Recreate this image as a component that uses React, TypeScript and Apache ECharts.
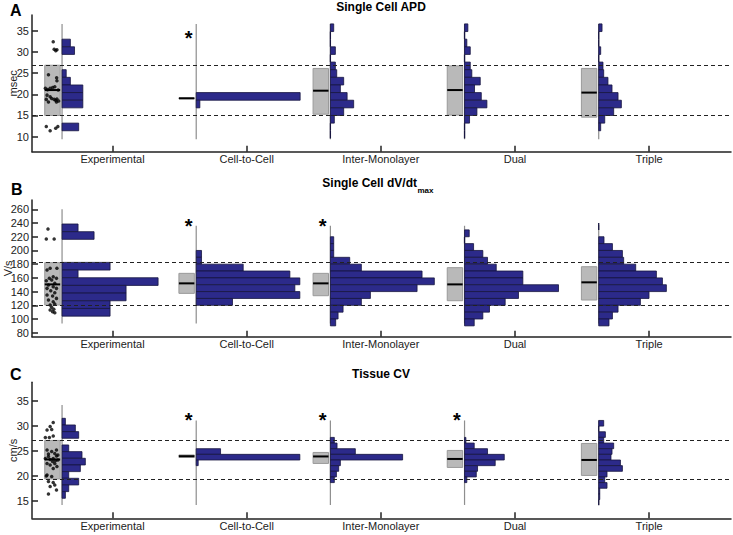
import React, { useEffect, useRef } from "react";
import * as echarts from "echarts";

const FONT = '"Liberation Sans", Arial, Helvetica, sans-serif';

// ---------------- data ----------------
const groups = ["Experimental", "Cell-to-Cell", "Inter-Monolayer", "Dual", "Triple"];
const groupPositions = [1, 2, 3, 4, 5];

// Panel A: Single Cell APD (msec)
const apdTicks = [10, 15, 20, 25, 30, 35];
const apdBinTop = [36.6, 36.6, 36.6, 36.6, 36.6];
const apdBinWidth = [1.8, 1.8, 1.8, 1.8, 1.8];
const apdFreqExperimental = [null, null, 8, 12, null, null, 4, 8, 20, 20, 20, null, null, 16, null];
const apdFreqCellToCell = [null, null, null, null, null, null, null, null, null, 100, 3.5, null, null, null, null];
const apdFreqInterMonolayer = [3.2, 0, 0, 4.8, 0, 4.8, 6.1, 12.8, 9.6, 16.1, 22.4, 12.8, 3.8, 0, 0];
const apdFreqDual = [3.2, 0, 2.2, 5.5, 0, 5.5, 7.0, 15.1, 9.6, 16.1, 21.5, 11.9, 4.8, 0, 0];
const apdFreqTriple = [3.2, 0, 0, 1.9, 0, 4.1, 4.8, 8.9, 12.8, 18.6, 21.8, 14.4, 5.8, 1.9, null];
const apdBoxLow = [15.0, 18.95, 15.3, 15.1, 14.6];
const apdBoxHigh = [26.85, 19.15, 26.1, 26.7, 26.1];
const apdMean = [21.0, 19.05, 20.85, 21.0, 20.4];
const apdBaseTop = [36.6, 36.6, 36.6, 36.6, 36.6];
const apdBaseBottom = 9.4;
const apdExpValues = [32.4, 30.6, 30.3, 30.5, 24.6, 23.9, 23.2, 21.4, 21.4, 21.6, 21.8, 21.1, 21.0, 19.8, 19.4, 19.0, 18.8, 18.6, 18.9, 18.2, 18.2, 18.8, 18.4, 12.4, 11.4, 12.0, 12.4];
const apdExpJitter = [0.55, 0.61, 0.71, 0.79, 0.24, 0.77, 0.79, 0.04, 0.35, 0.51, 0.65, 0.18, 0.87, 0.15, 0.35, 0.45, 0.61, 0.71, 0.79, 0.24, 0.76, 0.10, 0.90, 0.10, 0.35, 0.71, 0.85];
const apdSignificant = [0, 1, 0, 0, 0];
const apdStarLevel = 34.4;

// Panel B: Single Cell dV/dt max (V/s)
const dvdtTicks = [80, 100, 120, 140, 160, 180, 200, 220, 240, 260];
const dvdtBinTop = [238.6, 240, 240, 240, 240];
const dvdtBinWidth = [11.2, 10, 10, 10, 10];
const dvdtFreqExperimental = [15.4, 30.8, null, null, null, 46.2, 15.4, 92.4, 61.6, 61.6, 46.2, 46.2];
const dvdtFreqCellToCell = [null, null, null, null, 5.1, 5.1, 45.2, 90.1, 99.7, 94.9, 99.7, 34.9];
const dvdtFreqInterMonolayer = [null, null, 3.2, 3.2, 3.2, 18.6, 29.8, 88.2, 100, 83.4, 38.5, 29.8, 12.2, 7.4, 5.1];
const dvdtFreqDual = [null, 4.5, 0, 8.7, 17.6, 22.1, 30.5, 56.1, 56.1, 90.4, 51.9, 39.1, 24.0, 17.6, 9.3];
const dvdtFreqTriple = [0, null, 5.1, 13.2, 22.8, 24.0, 35.6, 55.5, 61.3, 65.1, 48.4, 40.1, 18.6, 13.2, 9.9];
const dvdtBoxLow = [120.4, 137.4, 134, 126.7, 127.7];
const dvdtBoxHigh = [182.2, 166.6, 166.6, 174.9, 176.3];
const dvdtMean = [150.5, 152, 152, 150.5, 153.5];
const dvdtBaseTop = [260, 236, 236, 236, 237];
const dvdtBaseBottom = 93.6;
const dvdtExpValues = [231.3, 216.7, 216.7, 173.9, 173.9, 171.5, 161.7, 159.3, 159.3, 155.9, 156.9, 152.0, 149.6, 147.1, 144.7, 144.7, 141.3, 138.4, 135.0, 133.5, 130.1, 127.7, 125.2, 121.8, 120.4, 117.0, 114.1, 110.7, 109.2, 113.1];
const dvdtExpJitter = [0.21, 0.10, 0.61, 0.35, 0.79, 0.15, 0.55, 0.30, 0.76, 0.10, 0.45, 0.65, 0.24, 0.55, 0.15, 0.76, 0.39, 0.65, 0.15, 0.51, 0.76, 0.24, 0.55, 0.65, 0.35, 0.45, 0.59, 0.51, 0.65, 0.35];
const dvdtSignificant = [0, 1, 1, 0, 0];
const dvdtStarLevel = 242;

// Panel C: Tissue CV (cm/s)
const cvTicks = [15, 20, 25, 30, 35];
const cvBinTop = [31.53, 31.1, 31.1, 31.1, 31.1];
const cvBinWidth = [1.333, 1.13, 1.13, 1.13, 1.13];
const cvFreqExperimental = [3.2, 12.8, 16.0, null, 6.4, 19.2, 22.4, 17.6, 6.4, 16.0, 6.4, 3.2];
const cvFreqCellToCell = [null, null, null, null, null, 23.4, 99.7, 1.9];
const cvFreqInterMonolayer = [null, null, null, 3.8, 6.4, 24.0, 69.5, 9.6, 8.0, 5.8, 3.8];
const cvFreqDual = [null, null, null, 1.3, 9.3, 22.1, 38.2, 29.5, 12.5, 11.3, 2.2];
const cvFreqTriple = [4.8, 0, 6.4, 4.8, 14.4, 12.8, 11.8, 20.9, 22.8, 8.0, 5.8, 8.0, 1.0, 1.0, 0];
const cvBoxLow = [19.4, 23.7, 22.5, 21.7, 20.1];
const cvBoxHigh = [27.1, 24.2, 24.7, 25.1, 26.5];
const cvMean = [23.3, 23.95, 23.9, 23.4, 23.2];
const cvBaseTop = [34.2, 31.1, 31.1, 31.1, 31.1];
const cvBaseBottom = 14.2;
const cvExpValues = [30.7, 29.9, 29.2, 29.3, 27.7, 27.7, 28.0, 25.2, 24.9, 24.5, 24.0, 23.9, 23.3, 23.5, 23.2, 22.5, 22.5, 22.2, 21.9, 21.5, 24.4, 22.9, 25.2, 20.2, 19.9, 18.9, 18.7, 18.2, 17.9, 17.2, 16.4, 20.0, 24.2, 23.5, 23.1];
const cvExpJitter = [0.55, 0.35, 0.15, 0.45, 0.04, 0.30, 0.55, 0.15, 0.45, 0.65, 0.76, 0.24, 0.35, 0.55, 0.85, 0.15, 0.65, 0.35, 0.79, 0.55, 0.24, 0.51, 0.76, 0.15, 0.45, 0.24, 0.55, 0.65, 0.35, 0.76, 0.24, 0.10, 0.85, 0.04, 0.70];
const cvSignificant = [0, 1, 1, 1, 0];
const cvStarLevel = 32.1;

// ---------------- layout / style ----------------
const NAVY = "#2c2a8a";
const EDGE = "#17153f";
const BOX_FILL = "#b9b9b9";
const BOX_EDGE = "#9a9a9a";
const AXIS = "#222";
const X_MIN = 0.4;
const X_MAX = 5.61;
const BOX_L = -0.505;
const BOX_R = -0.39;
const BASE_X = -0.376;
const STAR_X = -0.433;
const FREQ_SCALE = 104 / 134.25 / 100;

type Panel = {
  top: number; height: number; yMin: number; yMax: number; ticks: number[]; unit: string; nameGap: number;
  binTop: number[]; binWidth: number[]; freq: (number | null)[][];
  boxLow: number[]; boxHigh: number[]; mean: number[];
  baseTop: number[]; baseBottom: number;
  dots: number[]; jitter: number[]; sig: number[]; starLevel: number;
};

const panels: Panel[] = [
  {
    top: 15, height: 136.7, yMin: 6.46, yMax: 38.7, ticks: apdTicks, unit: "msec", nameGap: 14,
    binTop: apdBinTop, binWidth: apdBinWidth,
    freq: [apdFreqExperimental, apdFreqCellToCell, apdFreqInterMonolayer, apdFreqDual, apdFreqTriple],
    boxLow: apdBoxLow, boxHigh: apdBoxHigh, mean: apdMean, baseTop: apdBaseTop, baseBottom: apdBaseBottom,
    dots: apdExpValues, jitter: apdExpJitter, sig: apdSignificant, starLevel: apdStarLevel,
  },
  {
    top: 200, height: 136.7, yMin: 74.2, yMax: 273.6, ticks: dvdtTicks, unit: "V/s", nameGap: 19,
    binTop: dvdtBinTop, binWidth: dvdtBinWidth,
    freq: [dvdtFreqExperimental, dvdtFreqCellToCell, dvdtFreqInterMonolayer, dvdtFreqDual, dvdtFreqTriple],
    boxLow: dvdtBoxLow, boxHigh: dvdtBoxHigh, mean: dvdtMean, baseTop: dvdtBaseTop, baseBottom: dvdtBaseBottom,
    dots: dvdtExpValues, jitter: dvdtExpJitter, sig: dvdtSignificant, starLevel: dvdtStarLevel,
  },
  {
    top: 382.3, height: 136, yMin: 11.53, yMax: 38.73, ticks: cvTicks, unit: "cm/s", nameGap: 14,
    binTop: cvBinTop, binWidth: cvBinWidth,
    freq: [cvFreqExperimental, cvFreqCellToCell, cvFreqInterMonolayer, cvFreqDual, cvFreqTriple],
    boxLow: cvBoxLow, boxHigh: cvBoxHigh, mean: cvMean, baseTop: cvBaseTop, baseBottom: cvBaseBottom,
    dots: cvExpValues, jitter: cvExpJitter, sig: cvSignificant, starLevel: cvStarLevel,
  },
];

function buildOption() {
  const grid: any[] = [];
  const xAxis: any[] = [];
  const yAxis: any[] = [];
  const series: any[] = [];

  panels.forEach((p, i) => {
    grid.push({ left: 32, right: 2, top: p.top, height: p.height, containLabel: false, outerBoundsMode: "none" });
    xAxis.push({
      gridIndex: i, type: "value", min: X_MIN, max: X_MAX,
      axisLine: { show: true, onZero: false, lineStyle: { color: AXIS, width: 1.5 } },
      axisTick: { show: true, inside: true, length: 6, customValues: groupPositions, lineStyle: { color: AXIS, width: 1.5 } },
      axisLabel: {
        show: true, customValues: groupPositions, margin: 2, fontFamily: FONT, fontSize: 11, color: AXIS,
        formatter: (v: number) => groups[Math.round(v) - 1] ?? "",
      },
      splitLine: { show: false },
    });
    yAxis.push({
      gridIndex: i, type: "value", min: p.yMin, max: p.yMax,
      name: p.unit, nameLocation: "middle", nameGap: p.nameGap, nameRotate: 90, nameMoveOverlap: false,
      nameTextStyle: { fontFamily: FONT, fontSize: 11, color: AXIS },
      axisLine: { show: true, onZero: false, lineStyle: { color: AXIS, width: 1.5 } },
      axisTick: { show: true, inside: true, length: 6, customValues: p.ticks, lineStyle: { color: AXIS, width: 1.5 } },
      axisLabel: { show: true, customValues: p.ticks, margin: 3, fontFamily: FONT, fontSize: 11, color: AXIS },
      splitLine: { show: false },
    });

    // baselines + dashed reference lines (experimental mean ± SD)
    series.push({
      type: "custom", xAxisIndex: i, yAxisIndex: i, z: 1, silent: true,
      data: groupPositions.map((g, k) => [g + BASE_X, p.baseTop[k], p.baseBottom]),
      renderItem: (_: any, api: any) => {
        const a = api.coord([api.value(0), api.value(1)]);
        const b = api.coord([api.value(0), api.value(2)]);
        return { type: "line", shape: { x1: a[0], y1: a[1], x2: b[0], y2: b[1] }, style: { stroke: "#8e8e8e", lineWidth: 1.2 } };
      },
      markLine: {
        silent: true, symbol: ["none", "none"], label: { show: false },
        lineStyle: { color: AXIS, width: 1, type: [4, 3] },
        data: [{ yAxis: p.boxHigh[0] }, { yAxis: p.boxLow[0] }],
      },
    });

    // gray boxes with mean line
    series.push({
      type: "custom", xAxisIndex: i, yAxisIndex: i, z: 2, silent: true,
      data: groupPositions.map((g, k) => [g + BOX_L, p.boxLow[k], p.boxHigh[k], p.mean[k], g + BOX_R]),
      renderItem: (_: any, api: any) => {
        const a = api.coord([api.value(0), api.value(2)]);
        const b = api.coord([api.value(4), api.value(1)]);
        const m = api.coord([api.value(0), api.value(3)]);
        return {
          type: "group",
          children: [
            { type: "rect", shape: { x: a[0], y: a[1], width: b[0] - a[0], height: b[1] - a[1] }, style: { fill: BOX_FILL, stroke: BOX_EDGE, lineWidth: 1 } },
            { type: "line", shape: { x1: a[0], y1: m[1], x2: b[0], y2: m[1] }, style: { stroke: "#000", lineWidth: 2 } },
          ],
        };
      },
    });

    // histograms
    const hist: number[][] = [];
    p.freq.forEach((arr, k) => {
      arr.forEach((f, j) => {
        if (f === null || f === undefined) return;
        const top = p.binTop[k] - j * p.binWidth[k];
        hist.push([groupPositions[k] + BASE_X, top, top - p.binWidth[k], f]);
      });
    });
    series.push({
      type: "custom", xAxisIndex: i, yAxisIndex: i, z: 3, silent: true,
      data: hist,
      renderItem: (_: any, api: any) => {
        const x0 = api.value(0);
        const len = api.value(3);
        const a = api.coord([x0, api.value(1)]);
        const b = api.coord([x0 + len * FREQ_SCALE, api.value(2)]);
        if (len <= 0) {
          return { type: "line", shape: { x1: a[0], y1: a[1], x2: a[0], y2: b[1] }, style: { stroke: EDGE, lineWidth: 1.3 } };
        }
        return { type: "rect", shape: { x: a[0], y: a[1], width: b[0] - a[0], height: b[1] - a[1] }, style: { fill: NAVY, stroke: EDGE, lineWidth: 0.8 } };
      },
    });

    // experimental cells
    series.push({
      type: "scatter", xAxisIndex: i, yAxisIndex: i, z: 4, silent: true,
      symbolSize: 3.5, itemStyle: { color: "#000" },
      data: p.dots.map((v, j) => [groupPositions[0] + BOX_L + p.jitter[j] * (BOX_R - BOX_L), v]),
    });

    // significance asterisks
    const stars = groupPositions.filter((_, k) => p.sig[k]).map((g) => [g + STAR_X, p.starLevel]);
    series.push({
      type: "custom", xAxisIndex: i, yAxisIndex: i, z: 5, silent: true,
      data: stars,
      renderItem: (_: any, api: any) => {
        const c = api.coord([api.value(0), api.value(1)]);
        return {
          type: "text", x: c[0], y: c[1] + 4.6,
          style: { text: "*", font: `bold 20px ${FONT}`, fill: "#000", align: "center", textAlign: "center", verticalAlign: "middle", textVerticalAlign: "middle" },
        };
      },
    });
  });

  const txt = (text: string, x: number, y: number, font: string, align: string) => ({
    type: "text", x, y, silent: true,
    style: { text, font, fill: "#000", align, textAlign: align, verticalAlign: "middle", textVerticalAlign: "middle" },
  });

  const graphic = [
    txt("A", 10, 10.7, `bold 16px ${FONT}`, "left"),
    txt("B", 11, 189.7, `bold 16px ${FONT}`, "left"),
    txt("C", 10, 374.2, `bold 16px ${FONT}`, "left"),
    txt("Single Cell APD", 381, 7, `bold 12px ${FONT}`, "center"),
    txt("Single Cell dV/dt", 417, 182.8, `bold 12px ${FONT}`, "right"),
    txt("max", 417.5, 190.6, `bold 8px ${FONT}`, "left"),
    txt("Tissue CV", 381, 374, `bold 12px ${FONT}`, "center"),
  ];

  return { animation: false, backgroundColor: "#ffffff", grid, xAxis, yAxis, series, graphic };
}

export default function App() {
  const ref = useRef<HTMLDivElement>(null);
  useEffect(() => {
    if (!ref.current) return;
    const chart = echarts.init(ref.current, null, { renderer: "svg" });
    chart.setOption(buildOption() as any);
    return () => chart.dispose();
  }, []);
  return (
    <div
      ref={ref}
      style={{ position: "absolute", left: 0, top: 0, width: 733, height: 535, background: "#fff" }}
    />
  );
}
